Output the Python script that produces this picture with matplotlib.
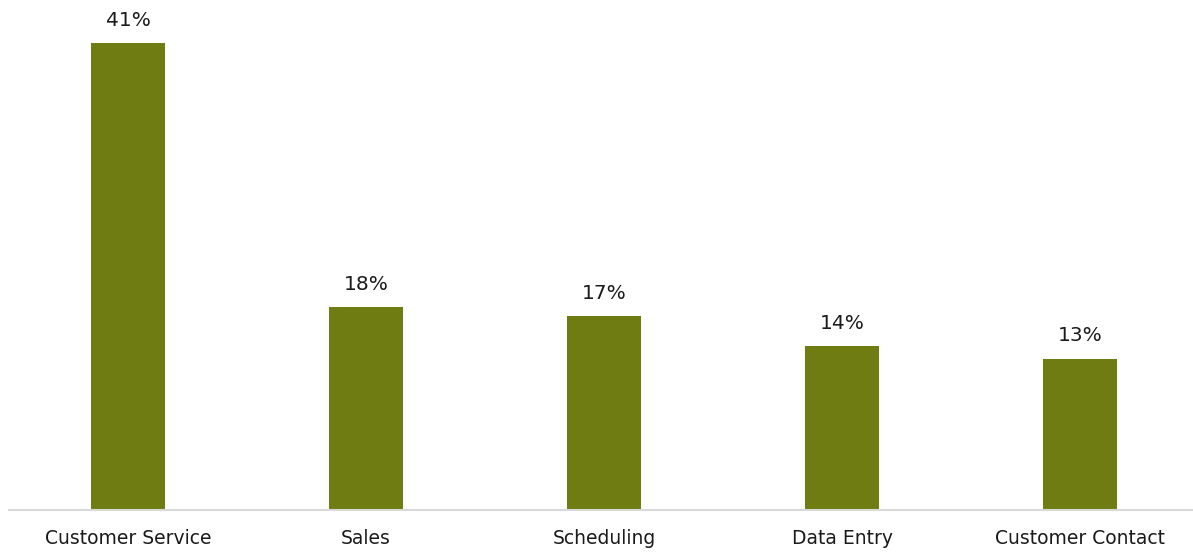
import matplotlib
matplotlib.use("Agg")
import matplotlib.pyplot as plt

categories = ["Customer Service", "Sales", "Scheduling", "Data Entry", "Customer Contact"]
values = [41.0, 17.8, 17.0, 14.4, 13.3]

W, H = 1193, 554
fig = plt.figure(figsize=(W / 100, H / 100), dpi=100)
ax = fig.add_axes([9 / W, 44 / H, 1190 / W, 510 / H])

color = "#6F7C12"
x = list(range(len(categories)))
bars = ax.bar(x, values, width=0.315, color=color, zorder=2)

ax.set_xlim(-0.5, len(categories) - 0.5)
ax.set_ylim(0, 44.8)

for xi, v in zip(x, values):
    ax.annotate(f"{round(v):.0f}%", (xi, v), xytext=(0, 9.5), textcoords="offset points",
                ha="center", va="bottom", fontsize=14.5, color="#1a1a1a")

ax.set_xticks(x)
ax.set_xticklabels(categories, fontsize=13.5, color="#1a1a1a")
ax.tick_params(axis="x", length=0, pad=14)
ax.set_yticks([])
for s in ["top", "right", "left"]:
    ax.spines[s].set_visible(False)
ax.spines["bottom"].set_color("#D9D9D9")
ax.spines["bottom"].set_linewidth(1.5)

fig.savefig("out.png", dpi=100)
